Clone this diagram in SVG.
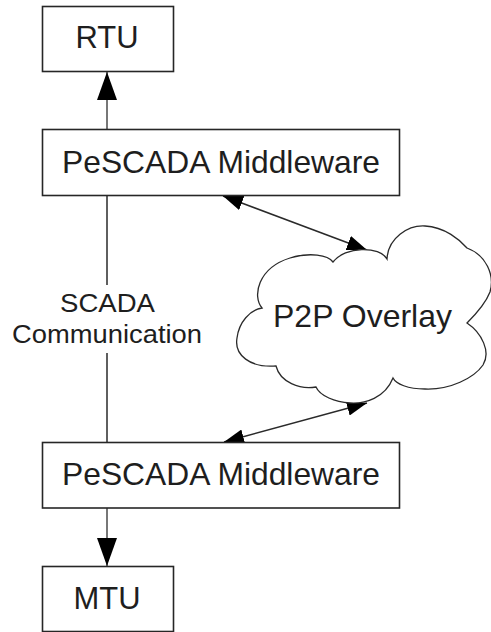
<svg xmlns="http://www.w3.org/2000/svg" width="491" height="632" viewBox="0 0 491 632">
  <style>
    .box { fill: #ffffff; stroke: #262626; stroke-width: 1.6; }
    .lbl { font-family: "Liberation Sans", Arial, sans-serif; fill: #1e1e1e; text-anchor: middle; }
    .big { font-size: 32px; }
    .small { font-size: 25px; }
    .conn { fill: none; stroke: #2a2a2a; stroke-width: 1.5; }
    .vconn { fill: none; stroke: #555555; stroke-width: 1.6; }
    .cloud { fill: #ffffff; stroke: #2a2a2a; stroke-width: 1.3; }
  </style>
  <defs>
    <marker id="bigHead" markerUnits="userSpaceOnUse" markerWidth="28" markerHeight="20" refX="28" refY="10" orient="auto" viewBox="0 0 28 20">
      <path d="M0,0 L28,10 L0,20 z" fill="#000000"/>
    </marker>
    <marker id="smallHead" markerUnits="userSpaceOnUse" markerWidth="20" markerHeight="15" refX="20" refY="7.5" orient="auto-start-reverse" viewBox="0 0 20 15">
      <path d="M0,0 L20,7.5 L0,15 z" fill="#000000"/>
    </marker>
  </defs>

  <g id="connectors">
    <line class="vconn" x1="107" y1="129" x2="107" y2="72" marker-end="url(#bigHead)"/>
    <line class="vconn" x1="107" y1="508" x2="107" y2="566" marker-end="url(#bigHead)"/>
    <line class="conn" x1="107" y1="195" x2="107" y2="285"/>
    <line class="conn" x1="107" y1="353" x2="107" y2="442"/>
    <line class="conn" x1="223" y1="196" x2="367" y2="250" marker-start="url(#smallHead)" marker-end="url(#smallHead)"/>
    <line class="conn" x1="224" y1="442" x2="367" y2="403" marker-start="url(#smallHead)" marker-end="url(#smallHead)"/>
    <g id="scada-label">
      <text class="lbl small" x="107.5" y="311.5" textLength="95" lengthAdjust="spacingAndGlyphs">SCADA</text>
      <text class="lbl small" x="107" y="343" textLength="190" lengthAdjust="spacingAndGlyphs">Communication</text>
    </g>
  </g>

  <g id="rtu">
    <rect class="box" x="42.5" y="6.5" width="131" height="65"/>
    <text class="lbl big" x="107" y="47.5" textLength="63" lengthAdjust="spacingAndGlyphs">RTU</text>
  </g>

  <g id="middleware-top">
    <rect class="box" x="42.5" y="129.5" width="357" height="66"/>
    <text class="lbl big" x="221" y="172.5" textLength="318" lengthAdjust="spacingAndGlyphs">PeSCADA Middleware</text>
  </g>

  <g id="p2p-overlay">
    <path class="cloud" d="M262,308
      C252,296 258,268 290,258
      C310,252 328,255 333,262
      C345,246 380,246 387,259
      C388,238 408,225 425,226
      C445,227 460,240 467,248
      C486,255 495,275 490,292
      C485,305 472,318 467,323
      C482,333 491,352 483,365
      C474,378 450,390 425,389
      C408,389 396,384 393,378
      C385,398 365,404 350,403
      C335,402 320,396 316,387
      C300,390 280,382 276,366
      C250,368 234,355 237,338
      C239,322 250,310 262,308 Z"/>
    <text class="lbl big" x="362.5" y="327" textLength="179" lengthAdjust="spacingAndGlyphs">P2P Overlay</text>
  </g>

  <g id="middleware-bottom">
    <rect class="box" x="42.5" y="442.5" width="357" height="65.5"/>
    <text class="lbl big" x="221" y="485" textLength="318" lengthAdjust="spacingAndGlyphs">PeSCADA Middleware</text>
  </g>

  <g id="mtu">
    <rect class="box" x="42.5" y="566.5" width="131" height="65"/>
    <text class="lbl big" x="107" y="609" textLength="67" lengthAdjust="spacingAndGlyphs">MTU</text>
  </g>
</svg>
